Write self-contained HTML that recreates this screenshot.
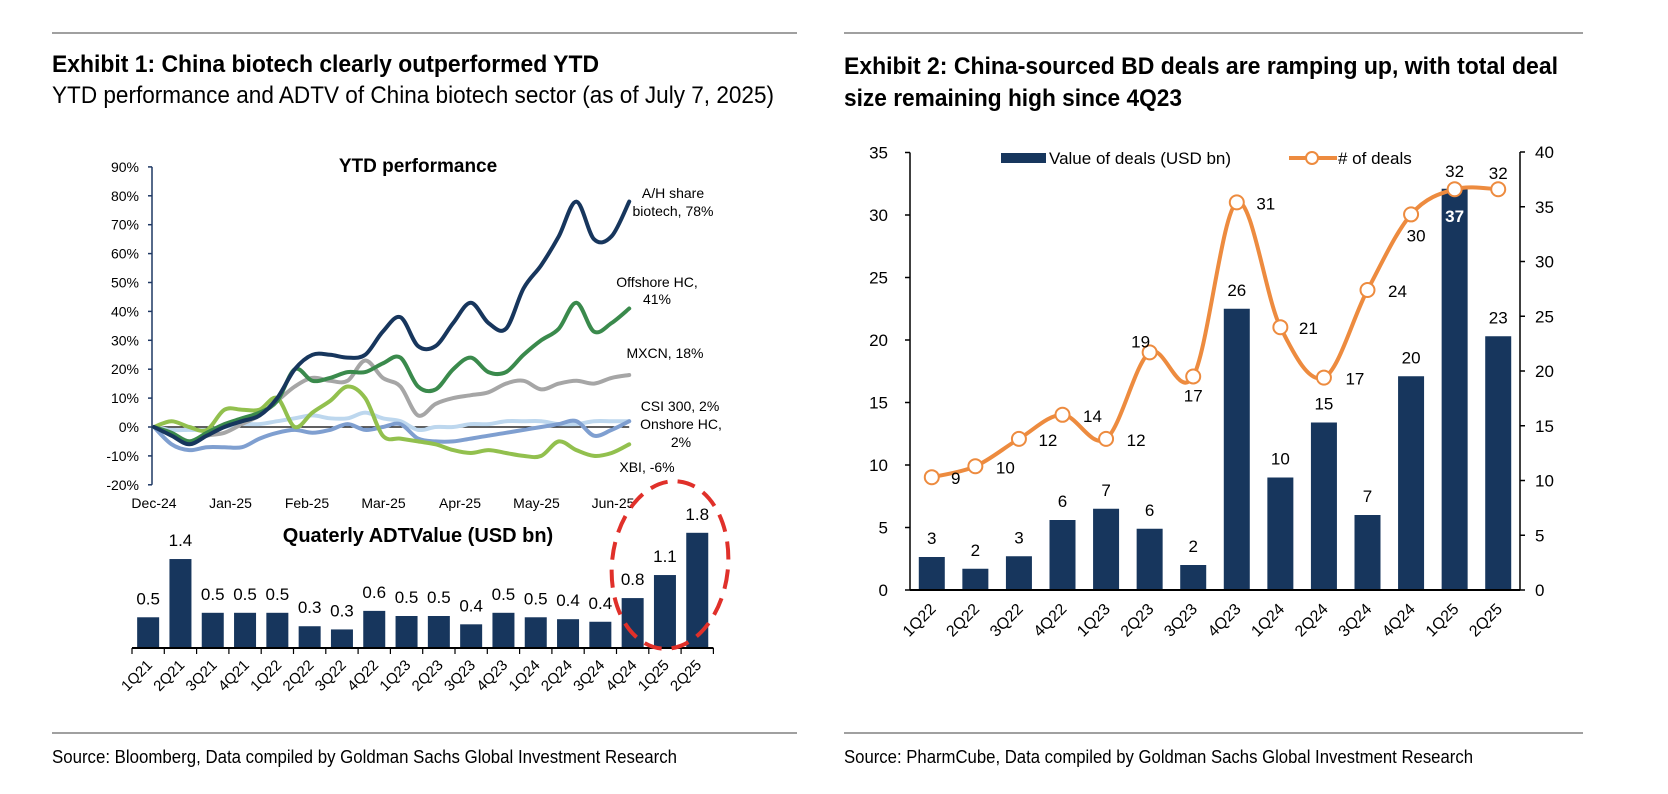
<!DOCTYPE html>
<html><head><meta charset="utf-8">
<style>
html,body{margin:0;padding:0;background:#fff;}
svg{display:block;}
text{font-family:"Liberation Sans Narrow","Liberation Sans",sans-serif;fill:#000;}
.b{font-weight:bold;}
</style></head>
<body>
<svg id="s" width="1668" height="794" viewBox="0 0 1668 794" xmlns="http://www.w3.org/2000/svg">
<line x1="52" y1="33" x2="797" y2="33" stroke="#a0a0a0" stroke-width="2"/>
<line x1="844" y1="33" x2="1583" y2="33" stroke="#a0a0a0" stroke-width="2"/>
<text x="52" y="72" class="b" font-size="24" textLength="547" lengthAdjust="spacingAndGlyphs">Exhibit 1: China biotech clearly outperformed YTD</text>
<text x="52" y="103" font-size="24" textLength="722" lengthAdjust="spacingAndGlyphs">YTD performance and ADTV of China biotech sector (as of July 7, 2025)</text>
<text x="844" y="74" class="b" font-size="24" textLength="714" lengthAdjust="spacingAndGlyphs">Exhibit 2: China-sourced BD deals are ramping up, with total deal</text>
<text x="844" y="106" class="b" font-size="24" textLength="338" lengthAdjust="spacingAndGlyphs">size remaining high since 4Q23</text>
<line x1="52" y1="733" x2="797" y2="733" stroke="#a0a0a0" stroke-width="2"/>
<line x1="844" y1="733" x2="1583" y2="733" stroke="#a0a0a0" stroke-width="2"/>
<text x="52" y="763" font-size="18" textLength="625" lengthAdjust="spacingAndGlyphs">Source: Bloomberg, Data compiled by Goldman Sachs Global Investment Research</text>
<text x="844" y="763" font-size="18" textLength="629" lengthAdjust="spacingAndGlyphs">Source: PharmCube, Data compiled by Goldman Sachs Global Investment Research</text>
<g id="g1"></g>
<g id="g2"></g>
<g id="g3"></g>
</svg>
<script>
// ===== Chart 1 data: weekly YTD performance (%) =====
const monthLabels = ["Dec-24","Jan-25","Feb-25","Mar-25","Apr-25","May-25","Jun-25"];
const yTicks1 = [-20,-10,0,10,20,30,40,50,60,70,80,90];
const ahShare = [0,-3,-6,-3,0,2,4,10,20,25,25,24,25,33,38,28,28,36,43,36,34,48,56,66,78,65,66,78];
const offshoreHC = [0,-2,-5,-2,1,3,5,9,20,16,17,19,19,22,24,14,13,20,24,19,19,25,30,34,43,33,36,41];
const mxcn = [0,-2,-5,-3,-2,1,4,9,14,17,16,16,23,17,14,4,8,10,11,12,15,16,13,15,16,15,17,18];
const csi300 = [0,-1,-1,-1,0,1,1,2,3,4,3,3,5,3,2,-1,0,0,1,1,2,2,2,1,1,2,2,2];
const onshoreHC = [0,-6,-8,-7,-7,-7,-4,-2,-1,-2,-1,1,-1,0,1,-4,-5,-5,-4,-3,-2,-1,0,1,2,-3,-1,2];
const xbi = [0,2,0,-1,6,6,6,10,0,5,9,14,10,-3,-4,-5,-6,-8,-9,-8,-9,-10,-10,-5,-8,-10,-9,-6];
// ===== Chart 2 data =====
const quarters1 = ["1Q21","2Q21","3Q21","4Q21","1Q22","2Q22","3Q22","4Q22","1Q23","2Q23","3Q23","4Q23","1Q24","2Q24","3Q24","4Q24","1Q25","2Q25"];
const adtv = [0.48,1.39,0.55,0.55,0.55,0.34,0.29,0.58,0.5,0.5,0.37,0.55,0.48,0.45,0.41,0.78,1.14,1.8];
const adtvLabels = ["0.5","1.4","0.5","0.5","0.5","0.3","0.3","0.6","0.5","0.5","0.4","0.5","0.5","0.4","0.4","0.8","1.1","1.8"];
// ===== Chart 3 data =====
const quarters2 = ["1Q22","2Q22","3Q22","4Q22","1Q23","2Q23","3Q23","4Q23","1Q24","2Q24","3Q24","4Q24","1Q25","2Q25"];
const dealValue = [2.64,1.7,2.7,5.6,6.5,4.9,2.0,22.5,9.0,13.4,6.0,17.1,32.1,20.3];
const dealValueLabels = ["3","2","3","6","7","6","2","26","10","15","7","20","37","23"];
const dealCount = [10.3,11.3,13.8,16.0,13.8,21.7,19.5,35.4,24.0,19.4,27.4,34.3,36.6,36.6];
const dealCountLabels = ["9","10","12","14","12","19","17","31","21","17","24","30","32","32"];
const leftTicks3 = [0,5,10,15,20,25,30,35];
const rightTicks3 = [0,5,10,15,20,25,30,35,40];

const NS="http://www.w3.org/2000/svg";
function mk(parent,tag,attrs,txt){const e=document.createElementNS(NS,tag);for(const k in attrs)e.setAttribute(k,attrs[k]);if(txt!==undefined)e.textContent=txt;parent.appendChild(e);return e;}
function smooth(pts){let d="M"+pts[0][0]+","+pts[0][1];for(let i=0;i<pts.length-1;i++){const p0=pts[i-1]||pts[i],p1=pts[i],p2=pts[i+1],p3=pts[i+2]||p2;const c1x=p1[0]+(p2[0]-p0[0])/6,c1y=p1[1]+(p2[1]-p0[1])/6,c2x=p2[0]-(p3[0]-p1[0])/6,c2y=p2[1]-(p3[1]-p1[1])/6;d+=" C"+c1x.toFixed(1)+","+c1y.toFixed(1)+" "+c2x.toFixed(1)+","+c2y.toFixed(1)+" "+p2[0].toFixed(1)+","+p2[1].toFixed(1);}return d;}

// ---- Chart 1 ----
(function(){
const g=document.getElementById('g1');
const xW=w=>154+17.6*w, xM=m=>154+76.5*m, y=v=>427-2.89*v;
let t=mk(g,'text',{x:418,y:172,'font-size':19,'class':'b','text-anchor':'middle'},'YTD performance');


let ax=mk(g,'line',{x1:152,y1:y(90),x2:152,y2:y(-20),stroke:'#1f3864','stroke-width':1.5});


yTicks1.forEach(v=>{
 const tk=mk(g,'line',{x1:148,y1:y(v),x2:152,y2:y(v),stroke:'#1f3864','stroke-width':1.5});
 
 
 const l=mk(g,'text',{x:139,y:y(v)+5,'font-size':14,'text-anchor':'end'},v+'%');
 
 
});
monthLabels.forEach((m,i)=>{
 const l=mk(g,'text',{x:xM(i),y:508,'font-size':14,'text-anchor':'middle'},m);
 
 
});
const zl=mk(g,'line',{x1:152,y1:y(0),x2:xW(27),y2:y(0),stroke:'#000','stroke-width':1.2});


const series=[[csi300,'#bdd7ee','csi300-line'],[onshoreHC,'#7f9fd0','onshore-hc-line'],[mxcn,'#a6a6a6','mxcn-line'],[xbi,'#92c04e','xbi-line'],[offshoreHC,'#3a8a4c','offshore-hc-line'],[ahShare,'#17365d','ah-share-biotech-line']];
series.forEach(s=>{
 const p=mk(g,'path',{d:smooth(s[0].map((v,i)=>[xW(i),y(v)])),fill:'none',stroke:s[1],'stroke-width':4,'stroke-linejoin':'round','stroke-linecap':'round'});
 
 
});
const labs=[[673,198,'A/H share','ah-label-1'],[673,216,'biotech, 78%','ah-label-2'],[657,287,'Offshore HC,','offshore-label-1'],[657,304,'41%','offshore-label-2'],[665,358,'MXCN, 18%','mxcn-label'],[680,411,'CSI 300, 2%','csi300-label'],[681,429,'Onshore HC,','onshore-label-1'],[681,447,'2%','onshore-label-2'],[647,472,'XBI, -6%','xbi-label']];
labs.forEach(a=>{
 const l=mk(g,'text',{x:a[0],y:a[1],'font-size':14,'text-anchor':'middle'},a[2]);
 
 
});
})();

// ---- Chart 2 ----
(function(){
const g=document.getElementById('g2');
const x0=132,bw=32.3,base=648,k=64;
const xc=i=>x0+bw*(i+0.5), y=v=>base-k*v;
let t=mk(g,'text',{x:418,y:542,'font-size':20,'class':'b','text-anchor':'middle'},'Quaterly ADTValue (USD bn)');


adtv.forEach((v,i)=>{
 const r=mk(g,'rect',{x:xc(i)-11,y:y(v),width:22,height:base-y(v),fill:'#17365d'});
 
 
 const l=mk(g,'text',{x:xc(i),y:y(v)-13,'font-size':17,'text-anchor':'middle'},adtvLabels[i]);
 
 
 const q=mk(g,'text',{x:xc(i)+5,y:666,'font-size':15,'text-anchor':'end',transform:'rotate(-45 '+(xc(i)+5)+' 666)'},quarters1[i]);
 
 
});
for(let i=0;i<=quarters1.length;i++){
 const tk=mk(g,'line',{x1:x0+bw*i,y1:base,x2:x0+bw*i,y2:base+6,stroke:'#000','stroke-width':1.2});
 
 
}
const ax=mk(g,'line',{x1:x0,y1:base,x2:x0+bw*quarters1.length,y2:base,stroke:'#000','stroke-width':2});


const el=mk(g,'ellipse',{cx:670,cy:565,rx:58,ry:84,fill:'none',stroke:'#e0302a','stroke-width':4,'stroke-dasharray':'18 10',transform:'rotate(6 670 565)'});


})();

// ---- Chart 3 ----
(function(){
const g=document.getElementById('g3');
const x0=910,x1=1520,base=590,n=quarters2.length,bw=(x1-x0)/n;
const xc=i=>x0+bw*(i+0.5), yl=v=>base-12.5*v, yr=v=>base-10.95*v;
let a=mk(g,'line',{x1:x0,y1:yl(35),x2:x0,y2:base,stroke:'#000','stroke-width':1.5});


a=mk(g,'line',{x1:x1,y1:yr(40),x2:x1,y2:base,stroke:'#000','stroke-width':1.5});


leftTicks3.forEach(v=>{
 const tk=mk(g,'line',{x1:x0-5,y1:yl(v),x2:x0,y2:yl(v),stroke:'#000','stroke-width':1.5});
 
 
 const l=mk(g,'text',{x:888,y:yl(v)+6,'font-size':17,'text-anchor':'end'},v);
 
 
});
rightTicks3.forEach(v=>{
 const tk=mk(g,'line',{x1:x1,y1:yr(v),x2:x1+5,y2:yr(v),stroke:'#000','stroke-width':1.5});
 
 
 const l=mk(g,'text',{x:1535,y:yr(v)+6,'font-size':17,'text-anchor':'start'},v);
 
 
});
dealValue.forEach((v,i)=>{
 const r=mk(g,'rect',{x:xc(i)-13,y:yl(v),width:26,height:base-yl(v),fill:'#17365d'});
 
 
 const inside=i===12;
 const l=mk(g,'text',{x:xc(i),y:inside?yl(v)+33:yl(v)-13,'font-size':17,'text-anchor':'middle','class':inside?'b':''},dealValueLabels[i]);
 if(inside) l.style.fill='#fff';
 
 
 const q=mk(g,'text',{x:xc(i)+5,y:610,'font-size':16,'text-anchor':'end',transform:'rotate(-45 '+(xc(i)+5)+' 610)'},quarters2[i]);
 
 
});
a=mk(g,'line',{x1:x0,y1:base,x2:x1,y2:base,stroke:'#000','stroke-width':2});


const pts=dealCount.map((v,i)=>[xc(i),yr(v)]);
const p=mk(g,'path',{d:smooth(pts),fill:'none',stroke:'#ed8b3f','stroke-width':4,'stroke-linejoin':'round'});


const off=[[24,7],[30,7],[29,7],[30,7],[30,7],[-9,-5],[0,25],[29,7],[28,7],[31,7],[30,7],[5,27],[0,-12],[0,-10]];
pts.forEach((pt,i)=>{
 const c=mk(g,'circle',{cx:pt[0],cy:pt[1],r:7,fill:'#fff',stroke:'#ed8b3f','stroke-width':2});
 
 
 const l=mk(g,'text',{x:pt[0]+off[i][0],y:pt[1]+off[i][1],'font-size':17,'text-anchor':'middle'},dealCountLabels[i]);
 
 
});
let lg=mk(g,'rect',{x:1001,y:153,width:45,height:10,fill:'#17365d'});


lg=mk(g,'text',{x:1049,y:164,'font-size':17},'Value of deals (USD bn)');


lg=mk(g,'line',{x1:1289,y1:158,x2:1337,y2:158,stroke:'#ed8b3f','stroke-width':4});


lg=mk(g,'circle',{cx:1312,cy:158,r:6,fill:'#fff',stroke:'#ed8b3f','stroke-width':2});


lg=mk(g,'text',{x:1338,y:164,'font-size':17},'# of deals');


})();
</script>
</body></html>
